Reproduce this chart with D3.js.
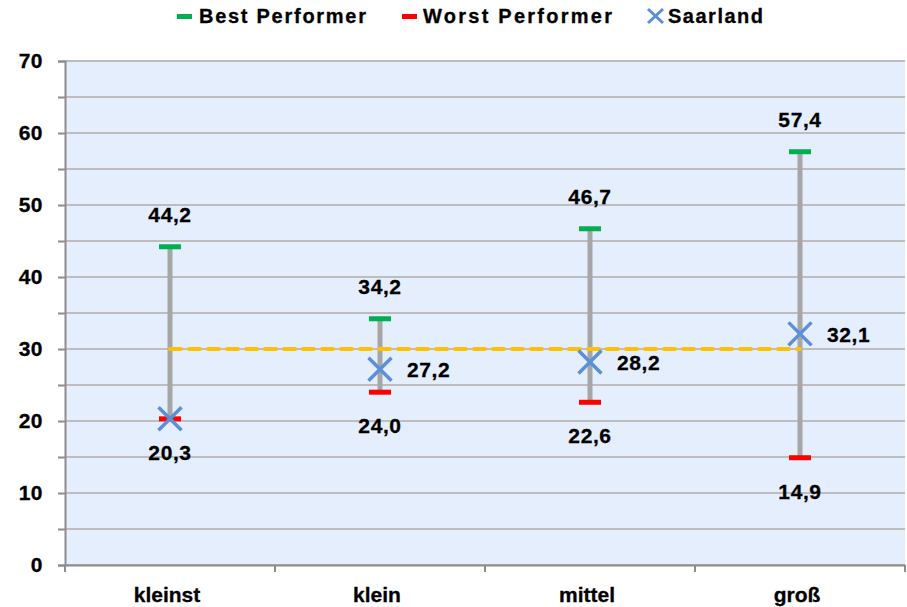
<!DOCTYPE html>
<html>
<head>
<meta charset="utf-8">
<script src="https://cdn.jsdelivr.net/npm/d3@7"></script>
<style>
  html, body { margin: 0; padding: 0; background: #ffffff; }
  svg { display: block; font-family: "Liberation Sans", Arial, sans-serif; font-weight: bold; }
</style>
</head>
<body>
<svg id="chart" width="907" height="607"></svg>
<script>
// Size classes and their values
const categories = ["kleinst", "klein", "mittel", "groß"];
const bestValues = [44.2, 34.2, 46.7, 57.4];
const worstValues = [20.3, 24.0, 22.6, 14.9];
const saarlandValues = [20.3, 27.2, 28.2, 32.1];
const averageValues = [30, 30, 30, 30];
const yTicks = [0, 10, 20, 30, 40, 50, 60, 70];
const yMinorTicks = [0, 5, 10, 15, 20, 25, 30, 35, 40, 45, 50, 55, 60, 65, 70];
const legendLabels = ["Best Performer", "Worst Performer", "Saarland"];

const colors = { best: "#00B050", worst: "#FF0000", saarland: "#5B8FD8", avg: "#FFC000", range: "#A6A6A6", grid: "#BDBDBD", bg: "#E5EEFC", axis: "#8C8C8C" };
const FONT = "Liberation Sans, Arial, sans-serif";

const margin = { left: 65, right: 2, top: 61, bottom: 42 };
const W = 907, H = 607;
const svg = d3.select("#chart");

const x = d3.scaleBand().domain(categories).range([margin.left, W - margin.right]).padding(0);
const y = d3.scaleLinear().domain([0, 70]).range([H - margin.bottom, margin.top]);
const cx = c => x(c) + x.bandwidth() / 2;
const fmt = v => d3.format(".1f")(v).replace(".", ",");

// plot background
svg.append("rect")
  .attr("x", margin.left).attr("y", y(70))
  .attr("width", W - margin.right - margin.left).attr("height", y(0) - y(70))
  .attr("fill", colors.bg);

// horizontal gridlines every 5
svg.append("g").selectAll("line").data(yMinorTicks).join("line")
  .attr("x1", margin.left).attr("x2", W - margin.right)
  .attr("y1", d => y(d)).attr("y2", d => y(d))
  .attr("stroke", colors.grid).attr("stroke-width", 2);

// y axis
const yAxis = d3.axisLeft(y).tickValues(yMinorTicks).tickSize(7)
  .tickFormat(d => yTicks.includes(d) ? d : "");
const gy = svg.append("g").attr("transform", `translate(${margin.left},0)`).call(yAxis);
gy.attr("font-size", null).attr("font-family", null);
gy.select(".domain").attr("stroke", colors.axis).attr("stroke-width", 2);
gy.selectAll(".tick line").attr("stroke", colors.axis).attr("stroke-width", 2);
gy.selectAll(".tick text")
  .style("font-size", "21px").style("font-weight", "bold").style("font-family", FONT)
  .attr("fill", "#000").attr("stroke", "#000").attr("stroke-width", 0.3)
  .attr("x", -22).attr("dy", "0.3em").attr("letter-spacing", 0.5);

// x axis
const xAxis = d3.axisBottom(x).tickSize(0).tickPadding(0);
const gx = svg.append("g").attr("transform", `translate(0,${y(0)})`).call(xAxis);
gx.attr("font-size", null).attr("font-family", null);
gx.select(".domain").attr("stroke", colors.axis).attr("stroke-width", 2);
gx.selectAll(".tick text")
  .style("font-size", "21px").style("font-weight", "bold").style("font-family", FONT)
  .attr("fill", "#000").attr("stroke", "#000").attr("stroke-width", 0.3)
  .attr("y", 37).attr("dy", 0).attr("dx", -3);
const bounds = categories.map(c => x(c)).concat([W - margin.right]);
svg.append("g").selectAll("line").data(bounds).join("line")
  .attr("x1", d => d).attr("x2", d => d)
  .attr("y1", y(0)).attr("y2", y(0) + 7)
  .attr("stroke", colors.axis).attr("stroke-width", 2);

// range bars (worst to best)
svg.append("g").selectAll("line").data(categories).join("line")
  .attr("x1", cx).attr("x2", cx)
  .attr("y1", (c, i) => y(worstValues[i])).attr("y2", (c, i) => y(bestValues[i]))
  .attr("stroke", colors.range).attr("stroke-width", 5);

// average line
const avgLine = d3.line().x((d, i) => cx(categories[i])).y(d => y(d));
svg.append("path").datum(averageValues)
  .attr("d", avgLine).attr("fill", "none")
  .attr("stroke", colors.avg).attr("stroke-width", 4)
  .attr("stroke-dasharray", "11,8").attr("stroke-linecap", "round");

// best/worst caps
function caps(values, color) {
  svg.append("g").selectAll("rect").data(values).join("rect")
    .attr("x", (d, i) => cx(categories[i]) - 11).attr("y", d => y(d) - 2.5)
    .attr("width", 22).attr("height", 5).attr("fill", color);
}
caps(bestValues, colors.best);
caps(worstValues, colors.worst);

// Saarland markers
const s = 11.5;
const mk = svg.append("g").selectAll("g").data(saarlandValues).join("g")
  .attr("transform", (d, i) => `translate(${cx(categories[i])},${y(d)})`);
mk.append("path").attr("d", `M${-s},${-s}L${s},${s}M${-s},${s}L${s},${-s}`)
  .attr("stroke", colors.saarland).attr("stroke-width", 3.5).attr("fill", "none");

// value labels
const labels = svg.append("g").style("font-size", "21px").attr("fill", "#000")
  .attr("stroke", "#000").attr("stroke-width", 0.3).attr("letter-spacing", 0.6);
labels.selectAll(".best").data(bestValues).join("text")
  .attr("x", (d, i) => cx(categories[i])).attr("y", d => y(d) - 25)
  .attr("text-anchor", "middle").text(fmt);
labels.selectAll(".worst").data(worstValues).join("text")
  .attr("x", (d, i) => cx(categories[i])).attr("y", d => y(d) + 41)
  .attr("text-anchor", "middle").text(fmt);
labels.selectAll(".saar").data(saarlandValues.map((v, i) => ({ v, i })).filter(d => d.v !== worstValues[d.i])).join("text")
  .attr("x", d => cx(categories[d.i]) + 27).attr("y", d => y(d.v) + 8)
  .attr("text-anchor", "start").text(d => fmt(d.v));

// legend
const legend = svg.append("g").style("font-size", "20px").attr("fill", "#000")
  .attr("stroke", "#000").attr("stroke-width", 0.3);
const items = [
  { label: legendLabels[0], type: "bar", color: colors.best, mx: 177, tx: 199, tw: 167 },
  { label: legendLabels[1], type: "bar", color: colors.worst, mx: 402, tx: 423, tw: 189 },
  { label: legendLabels[2], type: "x", color: colors.saarland, mx: 648, tx: 668, tw: 95 }
];
items.forEach(it => {
  if (it.type === "bar") {
    legend.append("rect").attr("x", it.mx).attr("y", 14).attr("width", 15).attr("height", 5)
      .attr("fill", it.color).attr("stroke", "none");
  } else {
    legend.append("path")
      .attr("d", `M${it.mx},${9}L${it.mx + 15},${23}M${it.mx},${23}L${it.mx + 15},${9}`)
      .attr("stroke", it.color).attr("stroke-width", 3);
  }
  legend.append("text").attr("x", it.tx).attr("y", 23)
    .attr("textLength", it.tw).attr("lengthAdjust", "spacing").text(it.label);
});
</script>
</body>
</html>
